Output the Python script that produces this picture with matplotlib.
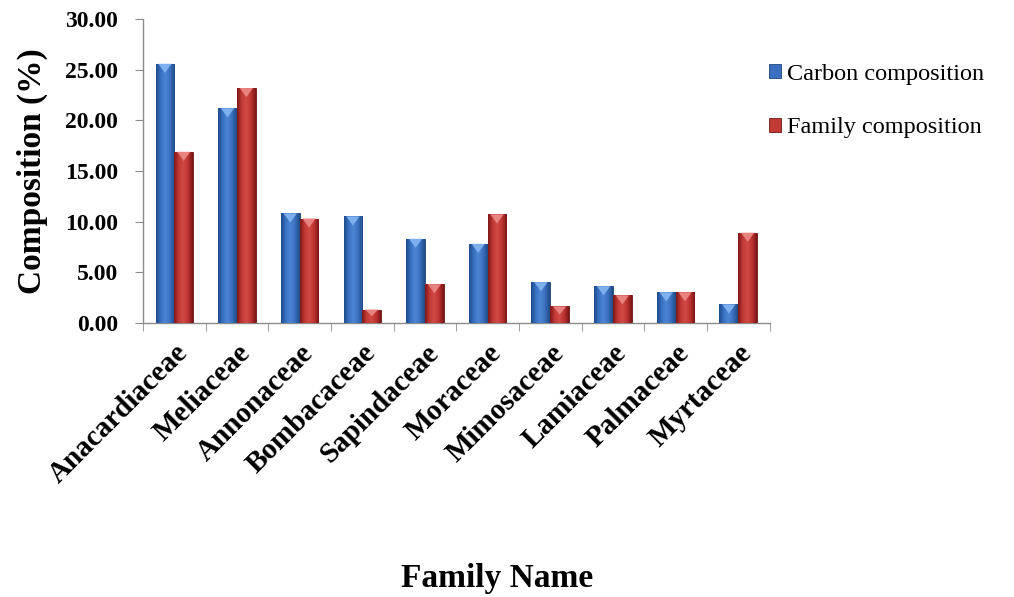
import numpy as np
import matplotlib
matplotlib.use("Agg")
import matplotlib.pyplot as plt
from matplotlib.colors import LinearSegmentedColormap
from matplotlib.patches import Polygon

families = ["Anacardiaceae", "Meliaceae", "Annonaceae", "Bombacaceae", "Sapindaceae",
            "Moraceae", "Mimosaceae", "Lamiaceae", "Palmaceae", "Myrtaceae"]
carbon = [25.6, 21.2, 10.8, 10.5, 8.3, 7.8, 4.0, 3.6, 3.0, 1.8]
family = [16.9, 23.2, 10.3, 1.3, 3.8, 10.7, 1.6, 2.7, 3.0, 8.9]
yticks = [0, 5, 10, 15, 20, 25, 30]

serif = ["Liberation Serif", "DejaVu Serif"]
plt.rcParams["font.family"] = serif

blue_cmap = LinearSegmentedColormap.from_list(
    "b", ["#1d4a8a", "#3a72c4", "#4d86d4", "#3a6fbf", "#1f4a86"])
red_cmap = LinearSegmentedColormap.from_list(
    "r", ["#7e1818", "#c23a36", "#d24a44", "#bb3331", "#7a1616"])

fig = plt.figure(figsize=(10.14, 5.97), dpi=100)
ax = fig.add_axes([0.141, 0.4595, 0.618, 0.5082])

x = np.arange(len(families))
w = 0.3
grad = np.linspace(0, 1, 64).reshape(1, -1)


def draw(values, offset, cmap, edge, tip):
    bars = ax.bar(x + offset, values, width=w, color=edge, edgecolor=edge,
                  linewidth=0.6, zorder=2)
    for b in bars:
        x0, y0 = b.get_x(), b.get_y()
        bw, bh = b.get_width(), b.get_height()
        im = ax.imshow(grad, cmap=cmap, aspect="auto",
                       extent=(x0, x0 + bw, y0, y0 + bh), zorder=3,
                       interpolation="bicubic")
        im.set_clip_path(b)
        # small bevel triangle at the top of each bar
        th = min(0.9, bh * 0.5)
        tri = Polygon([(x0 + bw * 0.15, y0 + bh), (x0 + bw * 0.85, y0 + bh),
                       (x0 + bw * 0.5, y0 + bh - th)], closed=True,
                      facecolor=tip, edgecolor="none", zorder=4)
        ax.add_patch(tri)
    return bars


b1 = draw(carbon, -w / 2, blue_cmap, "#1d4478", "#7fb0ee")
b2 = draw(family, w / 2, red_cmap, "#6e1414", "#e98380")

ax.set_xlim(-0.5, len(families) - 0.5)
ax.set_ylim(0, 30)
ax.set_yticks(yticks)
ax.set_yticklabels([f"{v:.2f}" for v in yticks], fontsize=17, fontweight="bold")
ax.set_xticks(x)
ax.set_xticklabels(families, rotation=45, ha="right", rotation_mode="anchor",
                   fontsize=21, fontweight="bold")
ax.tick_params(axis="x", which="major", length=0, pad=12)
ax.set_xticks(np.arange(-0.5, len(families)), minor=True)
ax.tick_params(axis="x", which="minor", length=6, color="#8c8c8c", direction="out")
ax.tick_params(axis="y", length=6, color="#8c8c8c", direction="out", pad=12)

for s in ["top", "right"]:
    ax.spines[s].set_visible(False)
for s in ["left", "bottom"]:
    ax.spines[s].set_color("#8c8c8c")
    ax.spines[s].set_linewidth(1.0)

ax.set_ylabel("Composition (%)", fontsize=24, fontweight="bold", labelpad=12)
fig.text(0.49, 0.017, "Family Name", fontsize=24, fontweight="bold",
         ha="center", va="baseline")

leg = fig.legend([b1.patches[0], b2.patches[0]],
                 ["Carbon composition", "Family composition"],
                 loc="upper left", bbox_to_anchor=(0.737, 0.93),
                 frameon=False, fontsize=17.5, handlelength=0.5, handleheight=0.5,
                 handletextpad=0.25, labelspacing=1.35)
leg.legend_handles[0].set_facecolor("#3a6fbf")
leg.legend_handles[1].set_facecolor("#c23a36")

fig.savefig("out.png", dpi=100)
